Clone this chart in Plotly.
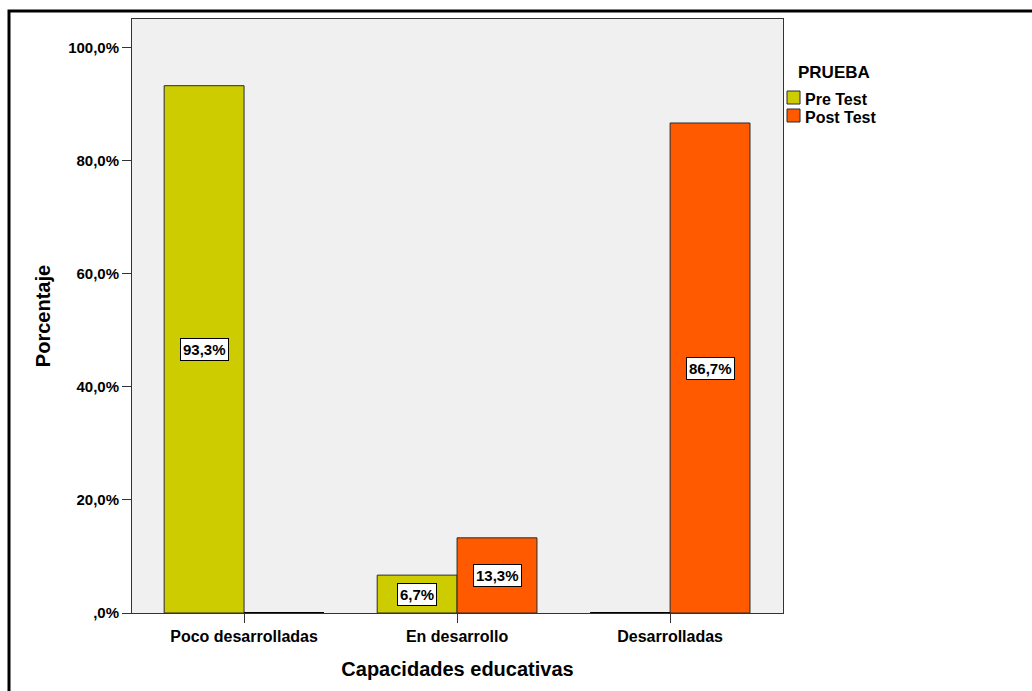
import plotly.graph_objects as go

categories = ["Poco desarrolladas", "En desarrollo", "Desarrolladas"]
pre_test = [93.3, 6.7, 0.0]
post_test = [0.0, 13.3, 86.7]
series_names = ["Pre Test", "Post Test"]
series_colors = ["#CCCC00", "#FF5A00"]
legend_title = "PRUEBA"
y_tickvals = [0, 20, 40, 60, 80, 100]
y_ticktext = [",0%", "20,0%", "40,0%", "60,0%", "80,0%", "100,0%"]

FONT = "Liberation Sans, Arial, sans-serif"
BAR_W = 0.375

# plot-area pixel frame (for paper-coordinate decorations)
PL, PR, PT, PB = 132, 783, 19, 613
def px_x(p):
    return (p - PL) / (PR - PL)
def px_y(p):
    return (PB - p) / (PB - PT)

fig = go.Figure()
for name, vals, col in zip(series_names, [pre_test, post_test], series_colors):
    fig.add_trace(go.Bar(
        x=categories, y=vals, name=name,
        marker=dict(color=col, line=dict(color="#2a2a2a", width=1)),
        width=BAR_W, hoverinfo="skip", showlegend=False,
    ))

def fmt(v):
    return f"{v:.1f}".replace(".", ",") + "%"

annotations = []
shapes = []
for si, vals in enumerate([pre_test, post_test]):
    off = -BAR_W / 2 if si == 0 else BAR_W / 2
    for ci, v in enumerate(vals):
        if v > 0:
            annotations.append(dict(
                x=ci + off, y=v / 2, xref="x", yref="y", text=fmt(v), showarrow=False,
                font=dict(family=FONT, size=15, color="black", weight="bold"),
                bgcolor="white", bordercolor="black", borderwidth=1, borderpad=2,
            ))
        else:
            x0 = ci - BAR_W if si == 0 else ci
            shapes.append(dict(type="line", xref="x", yref="y", x0=x0, x1=x0 + BAR_W,
                               y0=0, y1=0, line=dict(color="black", width=2)))

# legend (drawn manually to match the original layout)
annotations.append(dict(
    x=px_x(796), y=px_y(72), xref="paper", yref="paper", xanchor="left", yanchor="middle",
    text=legend_title, showarrow=False,
    font=dict(family=FONT, size=17, color="black", weight="bold"),
))
for i, (name, col) in enumerate(zip(series_names, series_colors)):
    top = 91 + 18 * i
    shapes.append(dict(type="rect", xref="paper", yref="paper",
                       x0=px_x(787), x1=px_x(800), y0=px_y(top + 13), y1=px_y(top),
                       fillcolor=col, line=dict(color="#2a2a2a", width=1)))
    annotations.append(dict(
        x=px_x(803), y=px_y(top + 8), xref="paper", yref="paper",
        xanchor="left", yanchor="middle", text=name, showarrow=False,
        font=dict(family=FONT, size=16, color="black", weight="bold"),
    ))

# outer frame
shapes.append(dict(type="rect", xref="paper", yref="paper",
                   x0=px_x(9), x1=2, y0=-1, y1=px_y(11),
                   line=dict(color="black", width=3), layer="above"))

fig.update_layout(
    width=1032, height=691,
    margin=dict(l=PL, r=1032 - PR, t=PT, b=691 - PB),
    paper_bgcolor="white", plot_bgcolor="#F0F0F0",
    barmode="group", bargap=0.25, bargroupgap=0,
    font=dict(family=FONT, color="black"),
    annotations=annotations, shapes=shapes,
    showlegend=False,
    xaxis=dict(
        type="category", range=[-0.526, 2.53],
        showline=True, linecolor="#333", linewidth=1, mirror=True,
        ticks="outside", ticklen=9, tickcolor="#333",
        tickfont=dict(family=FONT, size=16, weight="bold"),
        title=dict(text="Capacidades educativas", standoff=17,
                   font=dict(family=FONT, size=20, weight="bold")),
        showgrid=False, zeroline=False, automargin=False,
    ),
    yaxis=dict(
        range=[0, 105.1], tickvals=y_tickvals, ticktext=y_ticktext,
        showline=True, linecolor="#333", linewidth=1, mirror=True,
        ticks="outside", ticklen=9, tickcolor="#333",
        tickfont=dict(family=FONT, size=15, weight="bold"),
        title=dict(text="Porcentaje", standoff=12,
                   font=dict(family=FONT, size=20, weight="bold")),
        showgrid=False, zeroline=False, automargin=False,
    ),
)

fig.write_html("out.html")
